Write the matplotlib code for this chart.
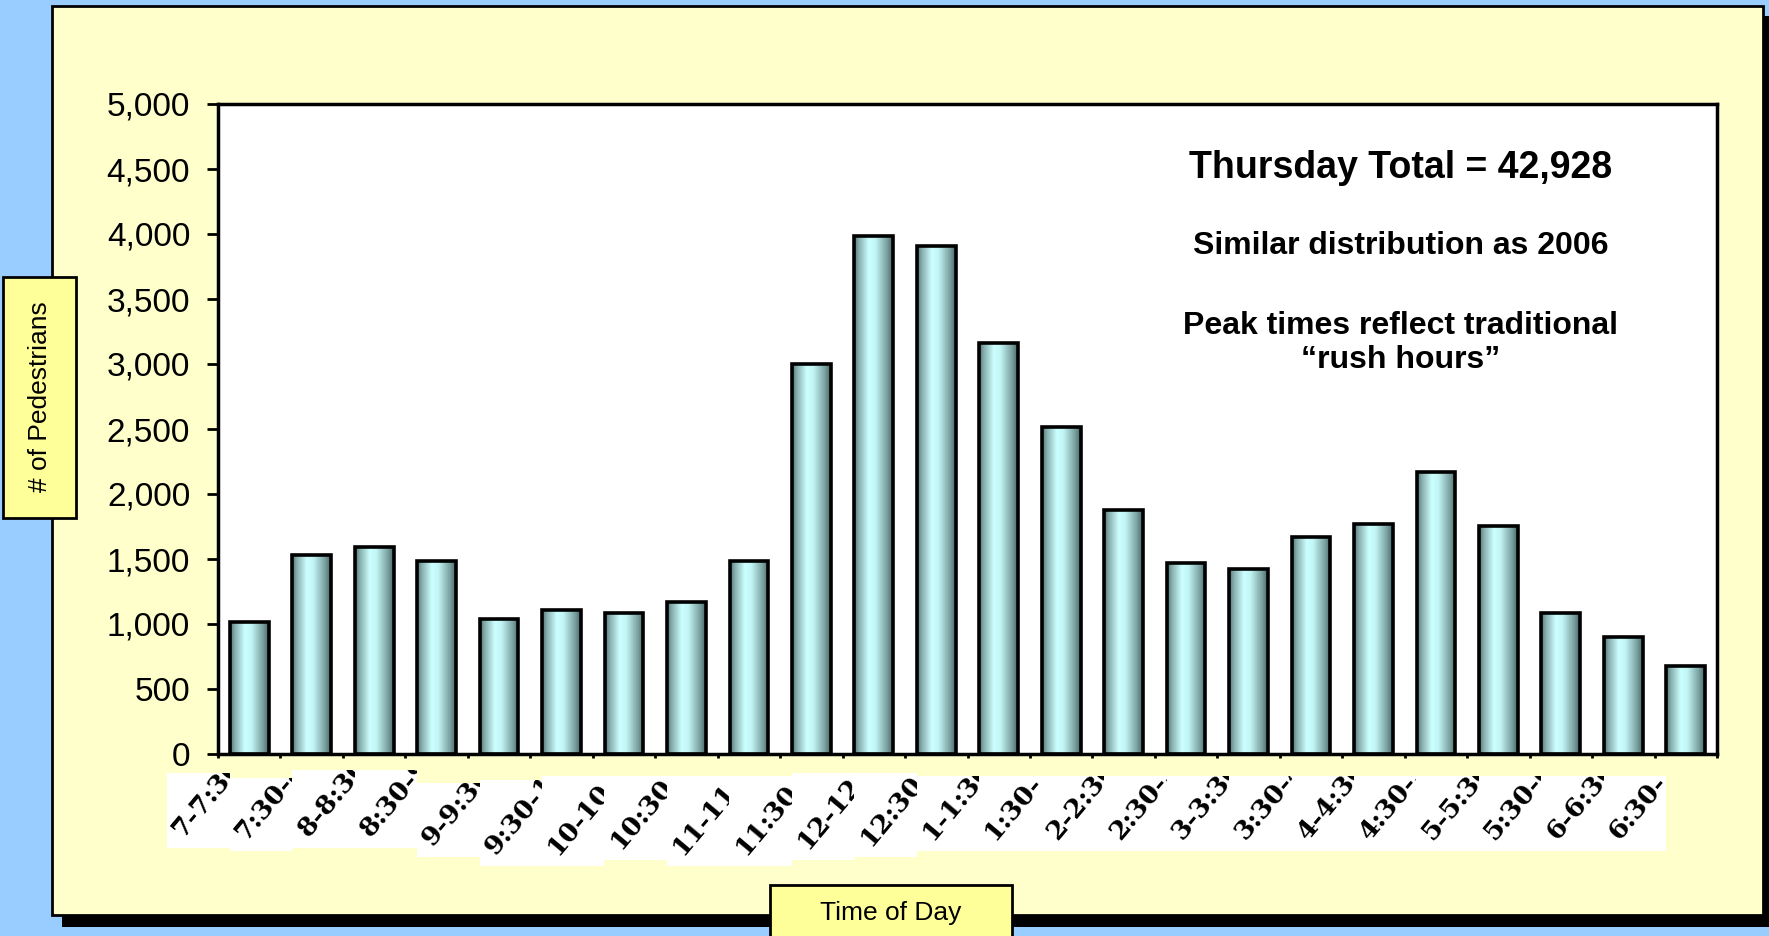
import numpy as np
import matplotlib
matplotlib.use('Agg')
import matplotlib.pyplot as plt
from matplotlib.patches import Rectangle
from matplotlib.colors import LinearSegmentedColormap
from matplotlib.ticker import FuncFormatter

# half-hour slots, Thursday pedestrian counts
slots = ["7-7:30", "7:30-8", "8-8:30", "8:30-9", "9-9:30", "9:30-10",
         "10-10:30", "10:30-11", "11-11:30", "11:30-12", "12-12:30", "12:30-1",
         "1-1:30", "1:30-2", "2-2:30", "2:30-3", "3-3:30", "3:30-4",
         "4-4:30", "4:30-5", "5-5:30", "5:30-6", "6-6:30", "6:30-7"]
counts = [1013, 1531, 1595, 1487, 1036, 1111, 1085, 1172, 1484, 2998, 3987, 3908,
          3159, 2517, 1875, 1467, 1424, 1667, 1771, 2170, 1753, 1085, 903, 677]
yticks = list(range(0, 5001, 500))
notes = ["Similar distribution as 2006", "Peak times reflect traditional\n\u201crush hours\u201d"]
headline = "Thursday Total = 42,928"

# label box bottoms (pixels) - the label images are ragged
box_bottom = [848, 851, 848, 848, 857, 866, 866, 860, 866, 866, 860, 857,
              851, 851, 851, 851, 851, 851, 851, 851, 851, 851, 851, 851]
box_top = [773, 778, 770, 770, 783, 780, 776, 776, 776, 776, 773, 773,
           776, 776, 776, 776, 776, 776, 776, 776, 776, 776, 776, 776]

W, H = 1769, 936
plt.rcParams['font.family'] = ['Liberation Sans', 'DejaVu Sans']

fig = plt.figure(figsize=(W/100, H/100), dpi=100)
fig.patch.set_facecolor('#99CCFF')

def frect(x0, y0, x1, y1, **kw):
    # rectangle given in image pixels (y down)
    r = Rectangle((x0/W, 1 - y1/H), (x1-x0)/W, (y1-y0)/H, transform=fig.transFigure, **kw)
    fig.add_artist(r)
    return r

# yellow panel with drop shadow
frect(62, 16, 1773, 927, fc='black', ec='none', zorder=0)
frect(52, 6, 1763, 915, fc='#FFFFCC', ec='black', lw=2, zorder=0.1)

ax = fig.add_axes([218/W, 1-754/H, 1499/W, 650/H])
ax.set_facecolor('white')
ax.set_zorder(1)

x = np.arange(len(counts))
bars = ax.bar(x, counts, width=0.62, fc='none', ec='black', lw=2.6, zorder=3)

cmap = LinearSegmentedColormap.from_list('bar', [(0, '#4d7070'), (0.12, '#86acac'), (0.38, '#ccffff'),
                                                 (0.55, '#c2f5f5'), (0.85, '#7a9f9f'), (1, '#466868')])
grad = np.linspace(0, 1, 256).reshape(1, -1)
for b in bars:
    im = ax.imshow(grad, cmap=cmap, aspect='auto', zorder=2,
                   extent=[b.get_x(), b.get_x()+b.get_width(), 0, b.get_height()])
    im.set_clip_path(b)

ax.set_xlim(-0.5, len(counts)-0.5)
ax.set_ylim(0, 5000)
ax.set_aspect('auto')
ax.set_yticks(yticks)
ax.yaxis.set_major_formatter(FuncFormatter(lambda v, p: f"{int(v):,}"))
ax.set_xticks(np.arange(len(counts)+1) - 0.5)
ax.set_xticklabels([])
ax.tick_params(axis='y', length=8, width=2, labelsize=24, pad=12)
ax.tick_params(axis='x', length=3, width=2)
for s in ax.spines.values():
    s.set_linewidth(2.5)

# headline and notes
ax.text(0.789, 0.9015, headline, transform=ax.transAxes, ha='center', va='center',
        fontsize=27, fontweight='bold')
ax.text(0.789, 0.7815, notes[0], transform=ax.transAxes, ha='center', va='center',
        fontsize=23, fontweight='bold')
ax.text(0.789, 0.632, notes[1], transform=ax.transAxes, ha='center', va='center',
        fontsize=23, fontweight='bold', linespacing=1.15)

# x category labels on white cards, clipped
for i, lab in enumerate(slots):
    cx, _ = ax.transData.transform((i, 0))
    left = cx - 82
    card = frect(left, box_top[i], left + 62.5, box_bottom[i], fc='white', ec='none', zorder=2)
    t = fig.text((left + 16)/W, 1 - (box_bottom[i] - 10)/H, lab, rotation=50, rotation_mode='anchor',
                 ha='left', va='baseline', fontsize=19, fontweight='bold',
                 family=['DejaVu Serif'], zorder=3)
    t.set_clip_path(card)

# axis title boxes
frect(3, 277, 76, 518, fc='#FFFF99', ec='black', lw=2, zorder=2)
fig.text(40/W, 1 - 397/H, "# of Pedestrians", rotation=90, ha='center', va='center', fontsize=19, zorder=3)
frect(770, 885, 1012, 945, fc='#FFFF99', ec='black', lw=2, zorder=2)
fig.text(891/W, 1 - 913/H, "Time of Day", ha='center', va='center', fontsize=19, zorder=3)

fig.savefig('out.png', dpi=100, facecolor=fig.get_facecolor())
